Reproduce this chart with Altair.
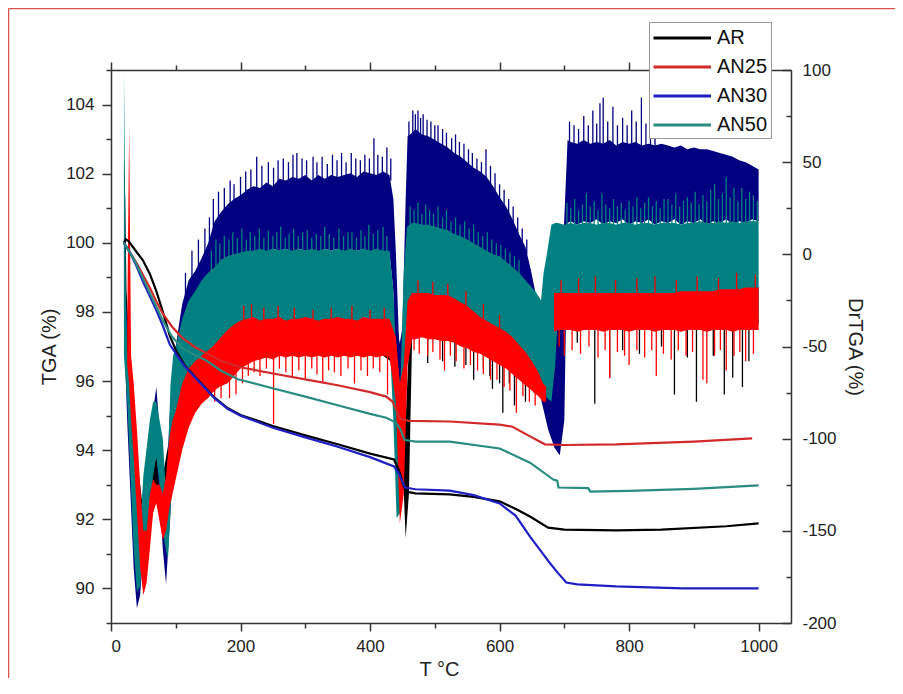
import altair as alt
import pandas as pd

FONT = "Liberation Sans"
SERIES = ["AR", "AN25", "AN30", "AN50"]
LINE_COLORS = ["#000000", "#d22a2a", "#1f1fc4", "#2a8c80"]
BAND_COLORS = {"AR": "#000000", "AN25": "#ff0000", "AN30": "#000080", "AN50": "#008080"}

# ---------------- TGA curves (left axis): (T, TGA %) ----------------
AR_TGA = [(20, 100.0), (23, 100.1), (27, 100.05), (33, 99.9), (40, 99.72), (49, 99.5), (60, 99.1),
          (70, 98.6), (80, 98.0), (91, 97.3), (100, 96.9), (114, 96.45), (130, 96.12), (145, 95.82),
          (160, 95.52), (180, 95.22), (200, 95.02), (250, 94.7), (300, 94.43), (350, 94.17),
          (400, 93.9), (437, 93.73), (445, 93.4), (452, 92.95), (456, 92.8), (470, 92.75),
          (523, 92.72), (560, 92.65), (600, 92.52), (625, 92.3), (647, 92.08), (675, 91.76),
          (700, 91.7), (780, 91.68), (850, 91.7), (950, 91.8), (1000, 91.88)]
AN25_TGA = [(20, 100.0), (30, 99.7), (40, 99.4), (50, 99.05), (60, 98.7), (70, 98.3), (80, 97.95),
            (94, 97.58), (110, 97.25), (130, 96.98), (145, 96.83), (170, 96.58), (200, 96.4),
            (250, 96.22), (300, 96.05), (350, 95.88), (400, 95.68), (425, 95.55), (435, 95.4),
            (442, 95.1), (447, 94.9), (460, 94.85), (523, 94.83), (600, 94.74), (620, 94.68),
            (647, 94.4), (670, 94.17), (700, 94.15), (780, 94.17), (900, 94.25), (990, 94.34)]
AN30_TGA = [(20, 100.0), (30, 99.7), (40, 99.3), (50, 98.85), (60, 98.45), (70, 98.05), (80, 97.6),
            (91, 97.05), (100, 96.8), (114, 96.42), (130, 96.1), (145, 95.8), (160, 95.5),
            (180, 95.2), (200, 95.0), (250, 94.65), (300, 94.37), (350, 94.1), (400, 93.8),
            (437, 93.53), (445, 93.3), (454, 92.92), (470, 92.87), (523, 92.83), (560, 92.7),
            (600, 92.46), (625, 92.1), (647, 91.5), (663, 91.1), (677, 90.75), (690, 90.45),
            (703, 90.17), (720, 90.12), (780, 90.06), (883, 90.0), (1000, 90.0)]
AN50_TGA = [(20, 100.0), (30, 99.7), (40, 99.35), (50, 98.95), (60, 98.55), (70, 98.15), (80, 97.75),
            (94, 97.29), (110, 96.95), (130, 96.75), (145, 96.62), (170, 96.3), (196, 96.05),
            (248, 95.8), (300, 95.55), (350, 95.3), (400, 95.05), (425, 94.94), (440, 94.8),
            (447, 94.6), (453, 94.3), (470, 94.25), (523, 94.25), (600, 94.05), (647, 93.64),
            (683, 93.15), (689, 93.12), (691, 92.92), (737, 92.9), (740, 92.8), (800, 92.82),
            (900, 92.88), (1000, 92.98)]

# ---------------- DrTGA noise envelopes (right axis): (T, low, high) ----------------
AR_BAND = [(20, -30, 51), (22, -45, 30), (24, -60, -20), (30, -100, -60), (40, -150, -110),
           (50, -170, -140), (60, -150, -120), (70, -130, -110), (80, -140, -120), (90, -130, -100),
           (100, -110, -80), (120, -88, -60), (150, -72, -50), (200, -55, -35), (300, -50, -33),
           (400, -50, -33), (440, -60, -35), (451, -120, -60), (455, -154, -90), (460, -130, -50),
           (465, -45, -25), (500, -44, -22), (550, -50, -28), (600, -58, -40), (640, -68, -50),
           (660, -76, -62), (670, -80, -66), (675, -60, -30), (684, -40, -20), (1000, -38, -18)]
AN30_BAND = [(20, -40, 10), (25, -90, -40), (30, -130, -80), (35, -170, -120), (40, -192, -150),
             (45, -185, -150), (50, -160, -125), (55, -140, -110), (60, -125, -95), (65, -115, -85),
             (70, -110, -72), (75, -130, -95), (80, -160, -120), (85, -179, -140), (90, -150, -90),
             (95, -120, -70), (100, -100, -50), (105, -80, -38), (110, -60, -27), (120, -40, -14),
             (130, -30, -9), (140, -20, -2), (150, -12, 6), (160, -8, 18), (170, -5, 23),
             (180, -3, 27), (190, -2, 30), (200, 0, 32), (210, 1, 35), (220, 2, 37), (230, 2, 36),
             (240, 1, 39), (250, 3, 37), (260, 2, 41), (270, 3, 40), (280, 1, 42), (290, 3, 41),
             (300, 2, 43), (310, 2, 40), (320, 1, 43), (330, 3, 41), (340, 2, 43), (350, 3, 42),
             (360, 1, 43), (370, 2, 44), (380, 2, 42), (390, 3, 45), (400, 1, 44), (410, 2, 43),
             (420, 2, 45), (430, 1, 43), (436, -20, 30), (440, -80, 0), (445, -132, -50),
             (450, -120, -40), (455, -60, 30), (458, 10, 64), (465, 15, 66), (470, 16, 68),
             (480, 16, 65), (490, 15, 64), (500, 15, 62), (510, 13, 60), (520, 12, 58), (530, 10, 55),
             (540, 9, 53), (550, 7, 50), (560, 5, 47), (570, 3, 45), (580, 1, 42), (590, -1, 37),
             (600, -2, 31), (610, -5, 26), (620, -8, 19), (630, -11, 11), (640, -15, 4),
             (648, -30, -8), (655, -60, -20), (665, -80, -30), (675, -95, -40), (685, -105, -50),
             (693, -109, -30), (700, -90, 20), (705, 17, 62), (710, 18, 61), (720, 16, 60),
             (730, 18, 62), (740, 17, 60), (750, 19, 61), (760, 16, 60), (770, 18, 62), (780, 17, 59),
             (790, 19, 61), (800, 16, 60), (810, 18, 61), (820, 17, 59), (830, 19, 60), (840, 16, 59),
             (850, 18, 60), (860, 17, 59), (870, 19, 58), (880, 16, 59), (890, 18, 57), (900, 17, 58),
             (910, 19, 57), (920, 16, 57), (930, 18, 56), (940, 17, 55), (950, 19, 54), (960, 16, 53),
             (970, 18, 51), (980, 17, 50), (990, 19, 48), (1000, 18, 46)]
AN50_BAND = [(20, -55, 100), (23, -70, -20), (25, -80, -50), (30, -120, -65), (35, -160, -90),
             (40, -183, -130), (45, -180, -150), (50, -165, -120), (55, -155, -105), (60, -140, -90),
             (65, -120, -80), (70, -110, -80), (75, -125, -90), (80, -150, -100), (85, -161, -130),
             (88, -165, -110), (92, -140, -70), (96, -110, -55), (100, -95, -50), (110, -80, -35),
             (120, -75, -25), (130, -70, -20), (140, -65, -14), (150, -60, -10), (160, -55, -7),
             (170, -50, -3), (180, -48, -1), (190, -45, 0), (200, -45, 1), (210, -45, 2),
             (220, -45, 2), (230, -45, 3), (240, -45, 2), (250, -45, 3), (260, -45, 2), (270, -45, 3),
             (280, -45, 2), (290, -45, 3), (300, -45, 2), (310, -45, 3), (320, -45, 2), (330, -45, 3),
             (340, -45, 2), (350, -45, 3), (360, -45, 2), (370, -45, 3), (380, -45, 2), (390, -45, 3),
             (400, -45, 2), (410, -45, 3), (420, -45, 2), (430, -45, 2), (436, -90, -20),
             (441, -143, -60), (447, -140, -70), (452, -80, -10), (457, -40, 15), (465, -35, 17),
             (470, -35, 17), (480, -35, 16), (490, -35, 16), (500, -35, 15), (510, -35, 14),
             (520, -35, 13), (530, -38, 11), (540, -38, 10), (550, -40, 8), (560, -42, 6),
             (570, -44, 4), (580, -46, 2), (590, -48, 0), (600, -50, -1), (610, -52, -4),
             (620, -55, -7), (630, -58, -10), (640, -62, -14), (650, -66, -18), (657, -68, -21),
             (664, -70, -25), (668, -74, -10), (673, -78, 0), (680, -80, 16), (686, -60, 17),
             (690, -30, 17), (700, -30, 16), (710, -30, 17), (720, -30, 16), (730, -30, 17),
             (740, -30, 17), (750, -30, 16), (760, -30, 17), (770, -30, 17), (780, -30, 16),
             (790, -30, 17), (800, -30, 17), (810, -30, 16), (820, -30, 17), (830, -30, 17),
             (840, -30, 16), (850, -30, 17), (860, -30, 17), (870, -30, 17), (880, -30, 16),
             (890, -30, 17), (900, -30, 17), (910, -30, 18), (920, -30, 17), (930, -30, 17),
             (940, -30, 18), (950, -30, 17), (960, -30, 18), (970, -30, 17), (980, -30, 18),
             (990, -30, 18), (1000, -30, 18)]
AN25_BAND_A = [(25, -60, -40), (28, -70, 69), (31, -90, -55), (35, -110, -70), (40, -140, -95),
               (45, -170, -125), (50, -185, -150), (55, -178, -150), (60, -160, -130), (65, -140, -122),
               (70, -135, -125), (75, -145, -125), (80, -155, -130), (85, -150, -120), (90, -138, -100),
               (95, -130, -90), (100, -122, -85), (110, -106, -70), (120, -94, -62), (130, -86, -58),
               (140, -81, -55), (150, -78, -52), (157, -75, -50), (167, -72, -46), (180, -70, -41),
               (190, -66, -38), (200, -62, -36), (210, -60, -35), (220, -58, -34), (230, -57, -36),
               (240, -56, -35), (250, -57, -35), (260, -55, -34), (270, -56, -36), (280, -55, -35),
               (290, -56, -35), (300, -55, -34), (310, -56, -35), (320, -55, -36), (330, -56, -35),
               (340, -55, -35), (350, -56, -34), (360, -55, -35), (370, -56, -35), (380, -55, -36),
               (390, -56, -34), (400, -55, -35), (410, -56, -35), (420, -55, -35), (430, -56, -35),
               (440, -80, -45), (446, -146, -70), (452, -130, -60), (458, -60, -25), (465, -46, -21),
               (470, -46, -21), (480, -45, -21), (490, -46, -21), (500, -46, -22), (510, -47, -22),
               (520, -47, -22), (530, -48, -24), (540, -50, -26), (550, -51, -28), (560, -53, -31),
               (570, -54, -34), (580, -56, -36), (590, -58, -38), (600, -60, -40), (610, -62, -42),
               (620, -65, -45), (630, -68, -49), (640, -71, -53), (650, -74, -58), (660, -77, -64),
               (667, -80, -70), (672, -80, -72)]
AN25_BAND_B = [(684, -42, -21), (690, -41, -21), (700, -41, -21), (710, -41, -21), (720, -42, -21),
               (730, -41, -21), (740, -41, -21), (750, -41, -21), (760, -42, -21), (770, -41, -21),
               (780, -41, -21), (790, -41, -21), (800, -42, -21), (810, -41, -21), (820, -41, -21),
               (830, -41, -21), (840, -42, -21), (850, -41, -21), (860, -41, -21), (870, -41, -21),
               (880, -42, -20), (890, -41, -20), (900, -41, -20), (910, -41, -20), (920, -42, -20),
               (930, -41, -20), (940, -41, -19), (950, -41, -19), (960, -42, -19), (970, -41, -19),
               (980, -41, -18), (990, -41, -18), (1000, -41, -18)]

# ---------------- individual noise spikes: (T, base, tip) ----------------
AR_SPIKES = [(489, -42, -59), (512, -44, -58), (531, -46, -61), (548, -48, -60), (560, -50, -68),
             (575, -52, -62), (585, -54, -66), (589, -54, -73), (600, -56, -70), (605, -58, -86),
             (615, -60, -70), (623, -62, -82), (640, -66, -80), (653, -70, -75), (692, -36, -50),
             (720, -36, -48), (747, -36, -81), (770, -36, -67), (790, -36, -52), (816, -36, -54),
             (850, -36, -50), (870, -36, -76), (890, -36, -56), (904, -36, -80), (930, -36, -55),
             (947, -36, -76), (960, -36, -67), (975, -36, -72), (985, -36, -58)]
AN25_SPIKES = [(160, -70, -80), (170, -68, -78), (183, -66, -78), (193, -62, -76), (203, -58, -70),
               (212, -56, -66), (221, -54, -64), (230, -53, -66), (240, -52, -62), (251, -53, -92),
               (260, -52, -62), (270, -53, -64), (280, -52, -66), (290, -53, -63), (300, -52, -68),
               (310, -53, -62), (318, -52, -65), (327, -52, -70), (336, -53, -63), (345, -52, -64),
               (355, -53, -66), (366, -52, -62), (376, -52, -70), (386, -52, -63), (396, -53, -66),
               (405, -52, -62), (415, -52, -64), (427, -52, -76), (468, -43, -52), (476, -42, -54),
               (489, -44, -55), (497, -43, -53), (508, -45, -57), (515, -44, -63), (524, -45, -55),
               (533, -46, -58), (545, -48, -62), (555, -50, -60), (566, -51, -63), (575, -52, -65),
               (586, -54, -68), (596, -56, -68), (607, -59, -72), (616, -61, -74), (626, -63, -86),
               (636, -66, -77), (646, -70, -80), (655, -73, -82), (692, -39, -50), (700, -39, -55),
               (712, -39, -52), (725, -40, -54), (738, -39, -50), (752, -39, -56), (763, -40, -52),
               (770, -39, -67), (782, -39, -53), (793, -40, -55), (800, -40, -60), (812, -39, -52),
               (824, -39, -56), (835, -40, -52), (842, -39, -66), (853, -39, -54), (865, -40, -57),
               (876, -39, -52), (888, -39, -55), (898, -40, -53), (914, -39, -68), (920, -39, -70),
               (932, -39, -55), (941, -40, -52), (950, -39, -63), (962, -40, -55), (971, -39, -53),
               (980, -39, -58), (992, -39, -54),
               (205, -38, -28), (217, -37, -27), (236, -37, -29), (258, -36, -28), (283, -37, -29),
               (312, -37, -30), (340, -37, -29), (372, -37, -28), (400, -37, -30), (422, -37, -29),
               (474, -23, -14), (497, -24, -15), (520, -24, -16), (548, -29, -20), (575, -35, -27),
               (600, -42, -33), (695, -23, -14), (722, -23, -13), (748, -23, -12), (779, -23, -14),
               (812, -23, -13), (840, -23, -12), (873, -22, -14), (905, -22, -12), (938, -21, -13),
               (966, -21, -10), (995, -20, -11)]
AN30_SPIKES = [(115, -24, -10), (125, -14, 2), (135, -8, 8), (145, -2, 14), (152, 3, 20), (158, 10, 30),
               (166, 16, 34), (175, 20, 36), (184, 24, 40), (190, 26, 38), (200, 28, 42), (208, 30, 45),
               (216, 32, 46), (225, 33, 53), (233, 33, 48), (243, 35, 50), (251, 35, 47), (258, 37, 51),
               (266, 37, 52), (274, 38, 50), (281, 39, 54), (287, 38, 55), (295, 39, 52), (302, 40, 51),
               (312, 38, 53), (318, 40, 50), (326, 39, 53), (334, 39, 49), (342, 40, 54), (349, 39, 51),
               (356, 40, 55), (363, 40, 50), (371, 41, 55), (378, 40, 52), (385, 40, 51), (392, 42, 54),
               (399, 41, 52), (406, 41, 63), (412, 40, 54), (419, 42, 53), (426, 42, 58), (432, 40, 52),
               (460, 58, 72), (466, 62, 78), (470, 64, 76), (474, 64, 78), (478, 63, 74), (482, 62, 76),
               (488, 61, 73), (494, 60, 72), (500, 59, 70), (505, 58, 70), (512, 57, 68), (518, 55, 66),
               (526, 53, 63), (532, 52, 65), (538, 50, 61), (545, 49, 60), (552, 47, 57), (558, 45, 55),
               (565, 43, 52), (572, 41, 50), (579, 39, 57), (586, 37, 48), (593, 32, 44), (600, 28, 38),
               (607, 25, 35), (614, 20, 30), (621, 16, 26), (628, 10, 20), (635, 5, 14), (642, 0, 8),
               (708, 58, 72), (715, 58, 70), (722, 57, 68), (730, 58, 75), (737, 58, 70), (744, 57, 78),
               (750, 58, 71), (755, 58, 82), (760, 57, 85), (767, 58, 72), (775, 58, 80), (782, 56, 70),
               (790, 58, 74), (797, 57, 70), (804, 57, 78), (811, 58, 72), (819, 56, 85), (826, 57, 71),
               (833, 56, 74), (840, 55, 70)]
AN50_SPIKES = [(155, -12, 2), (162, -9, 8), (168, -6, 6), (175, -5, 10), (182, -4, 8), (188, -3, 12),
               (195, -2, 9), (202, -2, 14), (209, -1, 8), (215, 0, 12), (222, 0, 10), (229, 1, 14),
               (236, 0, 9), (243, 1, 13), (250, 1, 10), (256, 0, 12), (262, 1, 15), (269, 1, 9),
               (275, 1, 11), (282, 0, 14), (289, 1, 10), (296, 1, 12), (303, 0, 13), (310, 1, 9),
               (317, 0, 11), (324, 1, 10), (330, 1, 15), (337, 0, 11), (344, 1, 9), (352, 1, 14),
               (359, 0, 10), (366, 1, 12), (372, 1, 12), (379, 0, 9), (386, 1, 13), (392, 1, 10),
               (398, 1, 16), (405, 0, 11), (412, 1, 13), (420, 0, 15), (426, 0, 10),
               (462, 13, 26), (468, 15, 24), (474, 15, 28), (480, 14, 22), (486, 14, 27), (492, 13, 24),
               (498, 13, 22), (505, 12, 26), (512, 11, 20), (518, 10, 24), (525, 9, 18), (532, 8, 20),
               (539, 7, 16), (546, 6, 18), (553, 5, 14), (560, 4, 16), (567, 2, 12), (574, 1, 10),
               (581, 0, 12), (588, -2, 8), (595, -3, 6), (602, -4, 5), (609, -6, 3), (616, -8, 1),
               (623, -10, -1), (630, -12, -3),
               (704, 14, 28), (710, 14, 25), (716, 14, 30), (722, 14, 24), (728, 14, 27), (734, 15, 33),
               (740, 14, 26), (746, 14, 29), (752, 14, 24), (758, 15, 33), (764, 14, 27), (770, 14, 25),
               (776, 15, 30), (782, 14, 26), (788, 14, 28), (794, 15, 24), (800, 14, 29), (806, 15, 26),
               (812, 14, 31), (818, 15, 25), (824, 14, 28), (830, 15, 31), (836, 14, 26), (842, 15, 29),
               (848, 14, 25), (854, 15, 30), (860, 14, 30), (866, 15, 27), (872, 14, 33), (878, 15, 26),
               (884, 14, 29), (890, 15, 31), (896, 14, 28), (902, 15, 34), (908, 15, 27), (914, 15, 32),
               (920, 15, 29), (926, 15, 35), (932, 15, 38), (938, 15, 30), (944, 15, 33), (950, 15, 42),
               (956, 15, 31), (962, 15, 36), (968, 15, 29), (974, 15, 36), (980, 15, 30), (986, 15, 34),
               (992, 15, 32), (998, 15, 29)]

X_TICKS = list(range(0, 1001, 100))
LEFT_TICKS = list(range(89, 106))
RIGHT_TICKS = list(range(-200, 101, 25))

# ---------------- data frames ----------------
tga_rows = []
for name, pts in [("AR", AR_TGA), ("AN25", AN25_TGA), ("AN30", AN30_TGA), ("AN50", AN50_TGA)]:
    for t, v in pts:
        tga_rows.append({"T": t, "TGA": v, "series": name})
tga_df = pd.DataFrame(tga_rows)


def band_df(segments):
    rows = []
    for seg, pts in enumerate(segments):
        for t, lo, hi in pts:
            rows.append({"T": t, "lo": lo, "hi": hi, "seg": seg})
    return pd.DataFrame(rows)


def spike_df(pts):
    return pd.DataFrame([{"T": t, "base": b, "tip": p} for t, b, p in pts])


XS = alt.Scale(domain=[0, 1050], nice=False, zero=False)
YL = alt.Scale(domain=[89, 105], nice=False, zero=False)
YR = alt.Scale(domain=[-200, 100], nice=False, zero=False)

right_label_axis = alt.Axis(orient="right", values=RIGHT_TICKS, ticks=False,
                            labelExpr="datum.value % 50 == 0 ? '' + datum.value : ''",
                            labelPadding=11, title="DrTGA (%)", titlePadding=8, domain=True)
right_tick_axis = alt.Axis(orient="left", offset=-680, values=RIGHT_TICKS, labels=False,
                           domain=False, title=None,
                           tickSize={"condition": {"test": "datum.value % 50 == 0", "value": 9}, "value": 5})


def band(segments, color, axis=None):
    return alt.Chart(band_df(segments)).mark_area(color=color, opacity=1, interpolate="linear").encode(
        x=alt.X("T:Q", scale=XS, axis=None),
        y=alt.Y("lo:Q", scale=YR, axis=axis),
        y2="hi:Q",
        detail="seg:N",
    )


def spikes(pts, color):
    return alt.Chart(spike_df(pts)).mark_rule(color=color, strokeWidth=1.3).encode(
        x=alt.X("T:Q", scale=XS, axis=None),
        y=alt.Y("base:Q", scale=YR, axis=None),
        y2="tip:Q",
    )


right_group = alt.layer(
    band([AR_BAND], BAND_COLORS["AR"], right_label_axis),
    band([AN30_BAND], BAND_COLORS["AN30"], right_tick_axis),
    spikes(AR_SPIKES, BAND_COLORS["AR"]),
    spikes(AN30_SPIKES, BAND_COLORS["AN30"]),
    band([AN50_BAND], BAND_COLORS["AN50"]),
    spikes(AN50_SPIKES, BAND_COLORS["AN50"]),
    band([AN25_BAND_A, AN25_BAND_B], BAND_COLORS["AN25"]),
    spikes(AN25_SPIKES, BAND_COLORS["AN25"]),
).resolve_axis(y="independent")

tga_lines = alt.Chart(tga_df).mark_line(strokeWidth=2.2).encode(
    x=alt.X("T:Q", scale=XS, axis=alt.Axis(
        orient="bottom", values=X_TICKS, title="T °C",
        labelExpr="datum.value % 200 == 0 ? '' + datum.value : ''",
        tickSize={"condition": {"test": "datum.value % 200 == 0", "value": 8}, "value": 5},
        labelPadding=7, titlePadding=5, titleX=328)),
    y=alt.Y("TGA:Q", scale=YL, axis=alt.Axis(
        orient="left", values=LEFT_TICKS, title="TGA (%)",
        labelExpr="datum.value % 2 == 0 ? '' + datum.value : ''",
        tickSize={"condition": {"test": "datum.value % 2 == 0", "value": 9}, "value": 5},
        labelPadding=8, titlePadding=6)),
    color=alt.Color("series:N", scale=alt.Scale(domain=SERIES, range=LINE_COLORS),
                    legend=alt.Legend(orient="none", legendX=538, legendY=-48, title=None,
                                      symbolType="M-1,0H4", symbolSize=529, symbolStrokeWidth=3,
                                      labelFont=FONT, labelFontSize=20, labelColor="#111",
                                      labelOffset=39, rowPadding=6, padding=3,
                                      fillColor="white", strokeColor="#999")),
)

top_axis = alt.Chart(tga_df).mark_line(opacity=0).encode(
    x=alt.X("T:Q", scale=XS, axis=alt.Axis(
        orient="top", values=X_TICKS, labels=False, title=None,
        tickSize={"condition": {"test": "datum.value % 200 == 0", "value": 8}, "value": 5})),
    y=alt.Y("TGA:Q", scale=YL, axis=None),
)

frame_src = pd.DataFrame({"k": [0]})
frame_left = alt.Chart(frame_src).mark_rule(color="#d9534f", strokeWidth=1.5).encode(
    x=alt.value(-102.5), y=alt.value(-61.5), y2=alt.value(610))
frame_top = alt.Chart(frame_src).mark_rule(color="#d9534f", strokeWidth=1.5).encode(
    x=alt.value(-102.5), x2=alt.value(790), y=alt.value(-61.5))

chart = alt.layer(frame_left, frame_top, right_group, tga_lines, top_axis).resolve_scale(
    y="independent"
).resolve_axis(x="independent", y="independent").properties(
    width=680, height=553,
    padding={"left": 103, "top": 62, "right": 104, "bottom": 55},
    autosize=alt.AutoSizeParams(type="none"),
).configure_axis(
    labelFont=FONT, titleFont=FONT, labelFontSize=17, titleFontSize=20,
    titleFontWeight="normal", labelColor="#222", titleColor="#222",
    domainColor="#333", tickColor="#333", domainWidth=1.5, tickWidth=1.5, grid=False,
).configure_view(stroke=None)

chart.save("out.html", embed_options={"renderer": "svg", "actions": False})
